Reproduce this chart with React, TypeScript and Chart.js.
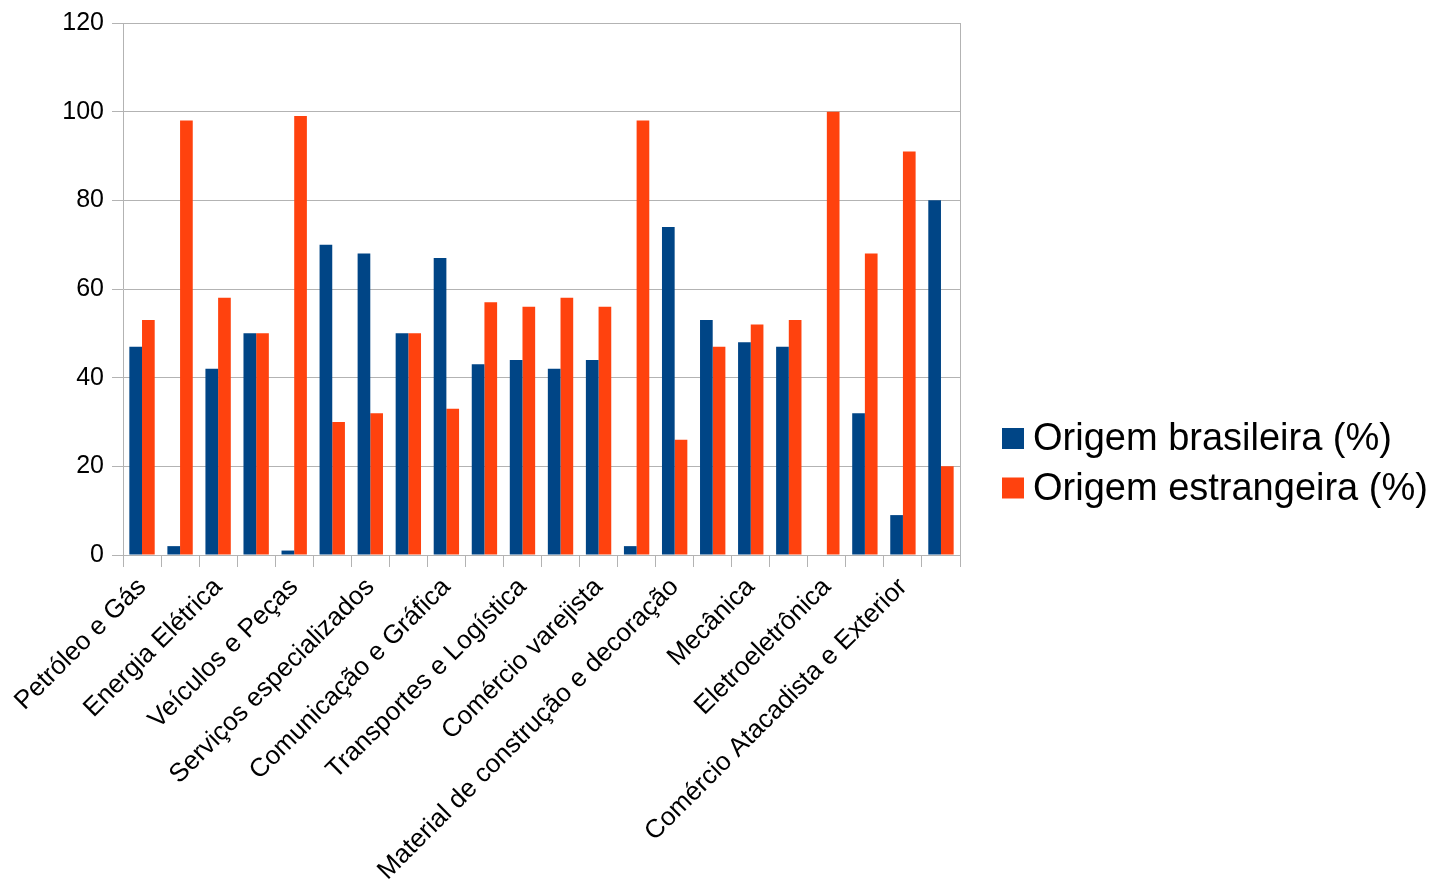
import React, { useEffect, useRef } from "react";
import { Chart, registerables } from "chart.js";

Chart.register(...registerables);

const categories: string[] = [
  "Petróleo e Gás", "",
  "Energia Elétrica", "",
  "Veículos e Peças", "",
  "Serviços especializados", "",
  "Comunicação e Gráfica", "",
  "Transportes e Logística", "",
  "Comércio varejista", "",
  "Material de construção e decoração", "",
  "Mecânica", "",
  "Eletroeletrônica", "",
  "Comércio Atacadista e Exterior", "",
];

const brasileira: number[] = [47, 2, 42, 50, 1, 70, 68, 50, 67, 43, 44, 42, 44, 2, 74, 53, 48, 47, 0, 32, 9, 80];
const estrangeira: number[] = [53, 98, 58, 50, 99, 30, 32, 50, 33, 57, 56, 58, 56, 98, 26, 47, 52, 53, 100, 68, 91, 20];

const yTicks: number[] = [0, 20, 40, 60, 80, 100, 120];

const FONT = "'Liberation Sans', Arial, sans-serif";
const GRID = "#b3b3b3";

const frameAndLegend = {
  id: "frameAndLegend",
  afterDraw(chart: any) {
    const { ctx, chartArea } = chart;
    ctx.save();
    ctx.strokeStyle = GRID;
    ctx.lineWidth = 1;
    ctx.beginPath();
    ctx.moveTo(chartArea.right + 0.5, chartArea.top);
    ctx.lineTo(chartArea.right + 0.5, chartArea.bottom + 12);
    ctx.stroke();
    // legend
    const lx = 1002;
    const ly = 428;
    chart.data.datasets.forEach((ds: any, i: number) => {
      const y = ly + i * 49.5;
      ctx.fillStyle = ds.backgroundColor;
      ctx.fillRect(lx, y, 22, 21);
      ctx.fillStyle = "#000";
      ctx.font = `38px ${FONT}`;
      ctx.textBaseline = "middle";
      ctx.textAlign = "left";
      ctx.fillText(ds.label, lx + 31, y + 12);
    });
    ctx.restore();
  },
};

export default function App() {
  const ref = useRef<HTMLCanvasElement>(null);
  useEffect(() => {
    if (!ref.current) return;
    const chart = new Chart(ref.current, {
      type: "bar",
      data: {
        labels: categories,
        datasets: [
          { label: "Origem brasileira (%)", data: brasileira, backgroundColor: "#004586", categoryPercentage: 2 / 3, barPercentage: 1 },
          { label: "Origem estrangeira (%)", data: estrangeira, backgroundColor: "#ff420e", categoryPercentage: 2 / 3, barPercentage: 1 },
        ],
      },
      options: {
        animation: false,
        responsive: false,
        layout: { padding: { left: 0, top: 22, right: 479, bottom: 0 } },
        plugins: { legend: { display: false }, tooltip: { enabled: false } },
        scales: {
          x: {
            grid: { offset: true, drawOnChartArea: false, color: GRID, tickLength: 12 },
            border: { color: GRID },
            ticks: {
              autoSkip: false,
              minRotation: 45,
              maxRotation: 45,
              padding: 5,
              color: "#000",
              font: { family: FONT, size: 26 },
            },
            afterFit: (s: any) => { s.height = 882 - 555; },
          },
          y: {
            min: 0,
            max: 120,
            afterBuildTicks: (s: any) => { s.ticks = yTicks.map((v) => ({ value: v })); },
            grid: { color: GRID, tickLength: 11 },
            border: { color: GRID },
            ticks: { color: "#000", padding: 8, font: { family: FONT, size: 25 } },
            afterFit: (s: any) => { s.width = 123; },
          },
        },
      },
      plugins: [frameAndLegend],
    });
    return () => chart.destroy();
  }, []);
  return (
    <div style={{ position: "absolute", left: 0, top: 0, width: 1439, height: 882, background: "#fff" }}>
      <canvas ref={ref} width={1439} height={882} />
    </div>
  );
}
